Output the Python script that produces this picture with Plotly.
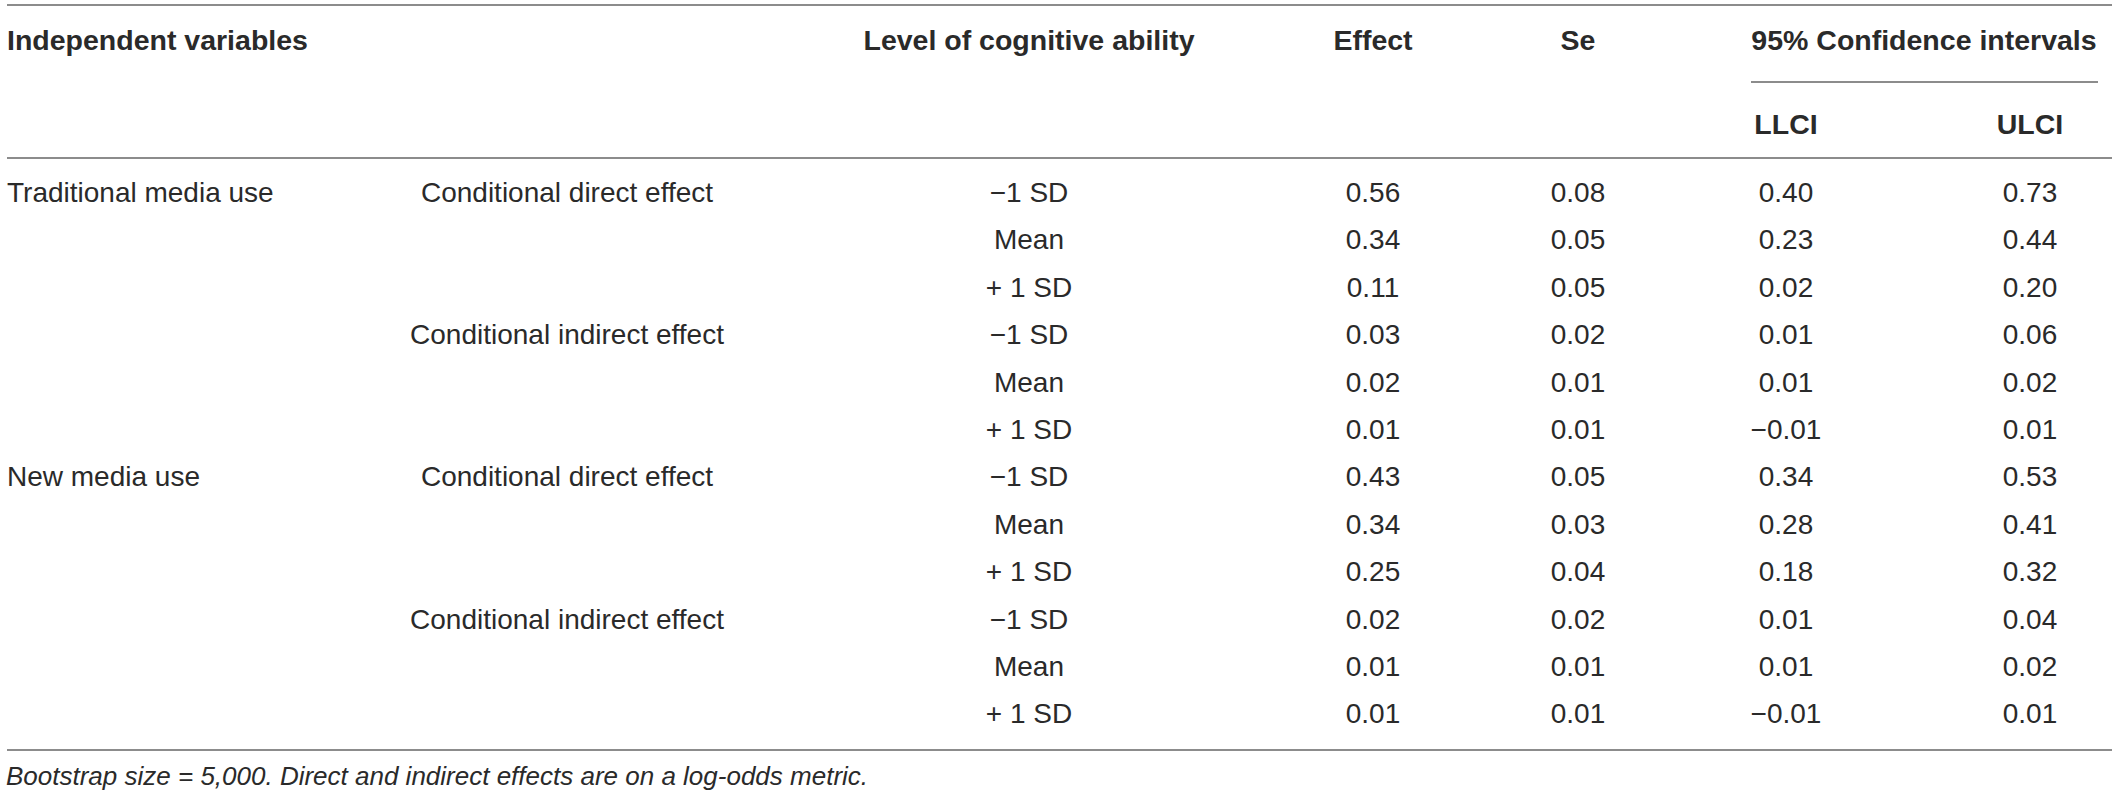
import plotly.graph_objects as go

# Dados da tabela
independent_vars = ["Traditional media use", "New media use"]
effect_types = ["Conditional direct effect", "Conditional indirect effect"]
levels = ["\u22121 SD", "Mean", "+ 1 SD"]

effect = [0.56, 0.34, 0.11, 0.03, 0.02, 0.01, 0.43, 0.34, 0.25, 0.02, 0.01, 0.01]
se = [0.08, 0.05, 0.05, 0.02, 0.01, 0.01, 0.05, 0.03, 0.04, 0.02, 0.01, 0.01]
llci = [0.40, 0.23, 0.02, 0.01, 0.01, -0.01, 0.34, 0.28, 0.18, 0.01, 0.01, -0.01]
ulci = [0.73, 0.44, 0.20, 0.06, 0.02, 0.01, 0.53, 0.41, 0.32, 0.04, 0.02, 0.01]

headers = ["Independent variables", "Level of cognitive ability", "Effect", "Se",
           "95% Confidence intervals"]
sub_headers = ["LLCI", "ULCI"]
note = "Bootstrap size = 5,000. Direct and indirect effects are on a log-odds metric."

# Layout (pixels)
W, H = 2119, 799
FONT = "Liberation Sans"
SIZE = 28
SIZE_HEAD = 28.5
SIZE_NOTE = 26
TXT = "#2a2a2a"
LINE = "#8c8c8c"

row0, row_h = 195, 47.4
n = len(effect)
rows = [row0 + i * row_h for i in range(n)]

col_x = {"iv": 7, "type": 567, "level": 1029, "effect": 1373, "se": 1578,
         "llci": 1786, "ulci": 2030}


def fmt(v):
    return f"{v:.2f}".replace("-", "\u2212")


fig = go.Figure()


def add_text(xs, ys, texts, pos="middle center", weight="normal", style="normal", size=SIZE):
    fig.add_trace(go.Scatter(
        x=xs, y=ys, text=texts, mode="text", textposition=pos,
        textfont=dict(family=FONT, size=size, color=TXT, weight=weight, style=style),
        hoverinfo="skip", showlegend=False,
    ))


# Cabeçalhos
add_text([col_x["iv"]], [43], [headers[0]], pos="middle right", weight="bold", size=SIZE_HEAD)
add_text([col_x["level"], col_x["effect"], col_x["se"], 1924], [43] * 4,
         headers[1:], weight="bold", size=SIZE_HEAD)
add_text([col_x["llci"], col_x["ulci"]], [127, 127], sub_headers, weight="bold", size=SIZE_HEAD)

# Coluna 1 e 2
add_text([col_x["iv"]] * 2, [rows[0], rows[6]], independent_vars, pos="middle right")
add_text([col_x["type"]] * 4, [rows[0], rows[3], rows[6], rows[9]], effect_types * 2)

# Níveis e valores
add_text([col_x["level"]] * n, rows, levels * 4)
add_text([col_x["effect"]] * n, rows, [fmt(v) for v in effect])
add_text([col_x["se"]] * n, rows, [fmt(v) for v in se])
add_text([col_x["llci"]] * n, rows, [fmt(v) for v in llci])
add_text([col_x["ulci"]] * n, rows, [fmt(v) for v in ulci])

# Nota
add_text([6], [778], [note], pos="middle right", style="italic", size=SIZE_NOTE)

# Linhas
shapes = []
for y in [5, 158, 750]:
    shapes.append(dict(type="line", x0=7, x1=2112, y0=y, y1=y,
                       line=dict(color=LINE, width=2)))
shapes.append(dict(type="line", x0=1751, x1=2098, y0=82, y1=82,
                   line=dict(color=LINE, width=2)))

fig.update_layout(
    width=W, height=H,
    margin=dict(l=0, r=0, t=0, b=0),
    paper_bgcolor="white", plot_bgcolor="white",
    shapes=shapes,
    xaxis=dict(range=[0, W], visible=False, fixedrange=True),
    yaxis=dict(range=[H, 0], visible=False, fixedrange=True),
)

# tira a margem padrão do body para a tabela ficar alinhada à janela
fig.write_html("out.html", config={"displayModeBar": False},
               post_script="document.body.style.margin='0';")
